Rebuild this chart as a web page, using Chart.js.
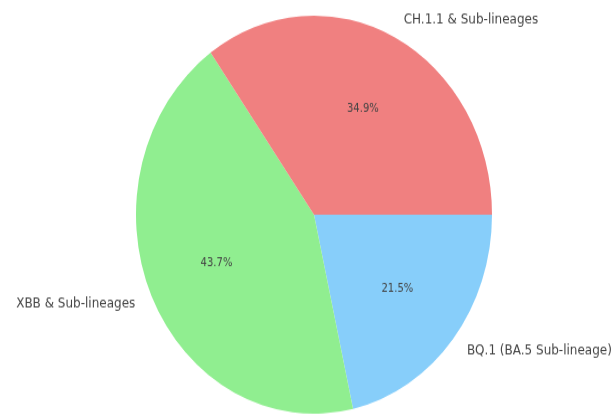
<!DOCTYPE html>
<html>
<head>
<meta charset="utf-8">
<script src="https://cdn.jsdelivr.net/npm/chart.js@4.4.1/dist/chart.umd.min.js"></script>
<style>
    html, body { margin: 0; padding: 0; background: #fff; width: 615px; height: 416px; overflow: hidden; }
    #page { width: 615px; height: 416px; position: relative; }
    /* the pie is drawn as a circle and stretched a little vertically */
    #wrap { position: absolute; left: 0; top: 0; width: 615px; height: 372px; transform: scale(1, 1.118); transform-origin: 0 0; }
</style>
</head>
<body>
<div id="page"><div id="wrap"><canvas id="lineagePie" width="615" height="372"></canvas></div></div>
<script>
// Lineage shares, listed clockwise from 3 o'clock
const lineages = ['BQ.1 (BA.5 Sub-lineage)', 'XBB & Sub-lineages', 'CH.1.1 & Sub-lineages'];
const shares = [21.5, 43.7, 34.9];
const sliceColors = ['#87CEFA', '#90EE90', '#F08080'];

// Draws the outer names and inner percentages for each slice
const sliceText = {
    id: 'sliceText',
    afterDatasetsDraw(chart) {
        const ctx = chart.ctx;
        const meta = chart.getDatasetMeta(0);
        ctx.save();
        ctx.fillStyle = '#444';
        ctx.textBaseline = 'middle';
        meta.data.forEach((arc, i) => {
            const mid = (arc.startAngle + arc.endAngle) / 2;
            const r = arc.outerRadius;
            const cos = Math.cos(mid), sin = Math.sin(mid);

            // percentage inside
            ctx.font = '10px "DejaVu Sans"';
            ctx.textAlign = 'center';
            ctx.fillText(shares[i].toFixed(1) + '%', arc.x + cos * r * 0.6, arc.y + sin * r * 0.6);

            // name outside
            ctx.font = '12px "DejaVu Sans"';
            ctx.textAlign = cos > 0 ? 'left' : 'right';
            ctx.fillText(lineages[i], arc.x + cos * r * 1.1, arc.y + sin * r * 1.1);
        });
        ctx.restore();
    }
};

const chart = new Chart(document.getElementById('lineagePie').getContext('2d'), {
    type: 'pie',
    data: {
        labels: lineages,
        datasets: [{
            data: shares,
            backgroundColor: sliceColors,
            borderWidth: 0
        }]
    },
    options: {
        responsive: false,
        animation: false,
        rotation: 90,
        layout: {
            padding: { left: 136, right: 123, top: 14, bottom: 2 }
        },
        plugins: {
            legend: { display: false },
            tooltip: { enabled: false }
        }
    },
    plugins: [sliceText]
});
</script>
</body>
</html>
